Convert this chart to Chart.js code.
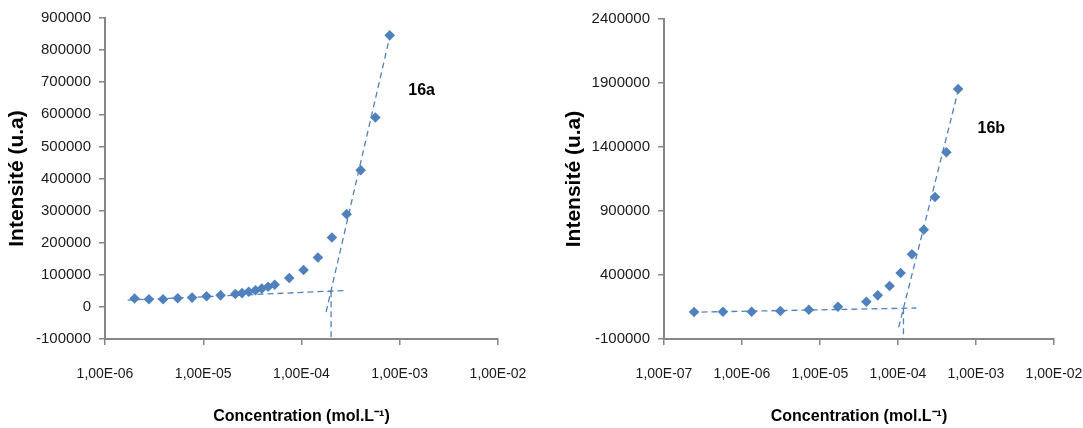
<!DOCTYPE html>
<html>
<head>
<meta charset="utf-8">
<script src="https://cdn.jsdelivr.net/npm/chart.js@4/dist/chart.umd.min.js"></script>
<style>
  html, body { margin: 0; padding: 0; background: #fff; }
  #wrap { position: relative; width: 1083px; height: 428px; }
  .box { position: absolute; top: 0; height: 428px; }
</style>
</head>
<body>
<div id="wrap">
  <div class="box" style="left:0;width:540px"><canvas id="chartA" width="540" height="428"></canvas></div>
  <div class="box" style="left:540px;width:543px"><canvas id="chartB" width="543" height="428"></canvas></div>
</div>
<script>
// 16a
const concA = [2.0e-6, 2.8e-6, 3.9e-6, 5.5e-6, 7.7e-6, 1.08e-5, 1.5e-5, 2.12e-5, 2.48e-5, 2.9e-5, 3.4e-5,
               3.94e-5, 4.57e-5, 5.34e-5, 7.5e-5, 1.05e-4, 1.47e-4, 2.04e-4, 2.88e-4, 4.0e-4, 5.65e-4, 7.9e-4];
const intensA = [26000, 24000, 24000, 27000, 29000, 33000, 36000, 40000, 43000, 47000, 52000,
                 57000, 63000, 69000, 90000, 115000, 154000, 216000, 289000, 426000, 590000, 846000];
const lowLineA = { x: [1.7e-6, 2.7e-4], y: [21000, 51000] };
const highLineA = { x: [1.78e-4, 8.1e-4], y: [-16000, 855000] };
const dropA = { x: [2.0e-4, 2.0e-4], y: [49000, -100000] };
const xTicksA = [1e-6, 1e-5, 1e-4, 1e-3, 1e-2];
const xLabelsA = ['1,00E-06', '1,00E-05', '1,00E-04', '1,00E-03', '1,00E-02'];

// 16b
const concB = [2.43e-7, 5.7e-7, 1.33e-6, 3.1e-6, 7.2e-6, 1.7e-5, 3.93e-5, 5.5e-5, 7.8e-5, 1.08e-4,
               1.51e-4, 2.14e-4, 2.98e-4, 4.17e-4, 5.9e-4];
const intensB = [111000, 113000, 113000, 119000, 129000, 152000, 191000, 241000, 314000, 416000,
                 562000, 754000, 1009000, 1359000, 1853000];
const lowLineB = { x: [2.25e-7, 1.72e-4], y: [109000, 142000] };
const highLineB = { x: [1.02e-4, 6.05e-4], y: [-9000, 1866000] };
const dropB = { x: [1.175e-4, 1.175e-4], y: [140000, -100000] };
const xTicksB = [1e-7, 1e-6, 1e-5, 1e-4, 1e-3, 1e-2];
const xLabelsB = ['1,00E-07', '1,00E-06', '1,00E-05', '1,00E-04', '1,00E-03', '1,00E-02'];

const BLUE = '#4f81bd';
const AXIS = '#868686';
const FONT = "'Liberation Sans', Arial, sans-serif";

const toXY = (xs, ys) => xs.map((x, i) => ({ x: x, y: ys[i] }));

function dashed(line) {
    return {
        data: toXY(line.x, line.y),
        showLine: true,
        borderColor: BLUE,
        borderWidth: 1.3,
        borderDash: [6, 4],
        pointRadius: 0,
        fill: false
    };
}

// tag like "16a" placed in data coordinates
const tagPlugin = {
    id: 'tag',
    afterDatasetsDraw(chart, args, opts) {
        const ctx = chart.ctx;
        const px = chart.scales.x.getPixelForValue(opts.at[0]);
        const py = chart.scales.y.getPixelForValue(opts.at[1]);
        ctx.save();
        ctx.font = "bold 16px " + FONT;
        ctx.fillStyle = '#000';
        ctx.textAlign = 'center';
        ctx.textBaseline = 'middle';
        ctx.fillText(opts.text, px, py);
        ctx.restore();
    }
};

function makeChart(id, cfg) {
    new Chart(document.getElementById(id), {
        type: 'scatter',
        data: {
            datasets: [{
                data: toXY(cfg.conc, cfg.intens),
                pointStyle: 'rectRot',
                pointRadius: 5.3,
                pointHoverRadius: 5.3,
                backgroundColor: BLUE,
                borderColor: BLUE,
                borderWidth: 0,
                showLine: false
            },
            dashed(cfg.low), dashed(cfg.high), dashed(cfg.drop)]
        },
        options: {
            responsive: false,
            animation: false,
            events: [],
            layout: { padding: { top: cfg.top, right: cfg.right, bottom: 0, left: 0 } },
            plugins: {
                legend: { display: false },
                tooltip: { enabled: false },
                tag: { text: cfg.tag, at: cfg.tagAt }
            },
            scales: {
                x: {
                    type: 'logarithmic',
                    min: cfg.xTicks[0],
                    max: cfg.xTicks[cfg.xTicks.length - 1],
                    afterBuildTicks: (s) => { s.ticks = cfg.xTicks.map(v => ({ value: v })); },
                    afterFit: (s) => { s.height = 89; s.paddingLeft = 0; s.paddingRight = 0; },
                    border: { color: AXIS, width: 2 },
                    grid: { drawOnChartArea: false, tickLength: 6, color: AXIS, lineWidth: 1.5 },
                    ticks: {
                        padding: 21,
                        maxRotation: 0,
                        autoSkip: false,
                        color: '#1a1a1a',
                        font: { family: FONT, size: 14 },
                        callback: (v, i) => cfg.xLabels[i]
                    },
                    title: {
                        display: true,
                        text: 'Concentration (mol.L⁻¹)',
                        color: '#000',
                        font: { family: FONT, size: 16, weight: 'bold' },
                        padding: { top: 0, bottom: 2 }
                    }
                },
                y: {
                    min: cfg.yMin,
                    max: cfg.yMax,
                    afterFit: (s) => { s.width = cfg.axisW; },
                    border: { color: AXIS, width: 2 },
                    grid: { drawOnChartArea: false, tickLength: 6, color: AXIS, lineWidth: 1.5 },
                    ticks: {
                        stepSize: cfg.yStep,
                        padding: 8,
                        color: '#1a1a1a',
                        font: { family: FONT, size: 15 },
                        callback: (v) => String(Math.round(v))
                    },
                    title: {
                        display: true,
                        text: 'Intensité (u.a)',
                        color: '#000',
                        font: { family: FONT, size: 21, weight: 'bold' },
                        padding: { top: cfg.titlePad, bottom: 0 }
                    }
                }
            }
        },
        plugins: [tagPlugin]
    });
}

makeChart('chartA', {
    conc: concA, intens: intensA, low: lowLineA, high: highLineA, drop: dropA,
    xTicks: xTicksA, xLabels: xLabelsA,
    yMin: -100000, yMax: 900000, yStep: 100000,
    top: 18, right: 42, axisW: 105, titlePad: 5,
    tag: '16a', tagAt: [1.67e-3, 675000]
});

makeChart('chartB', {
    conc: concB, intens: intensB, low: lowLineB, high: highLineB, drop: dropB,
    xTicks: xTicksB, xLabels: xLabelsB,
    yMin: -100000, yMax: 2400000, yStep: 500000,
    top: 19, right: 29, axisW: 124, titlePad: 22,
    tag: '16b', tagAt: [1.57e-3, 1540000]
});
</script>
</body>
</html>
